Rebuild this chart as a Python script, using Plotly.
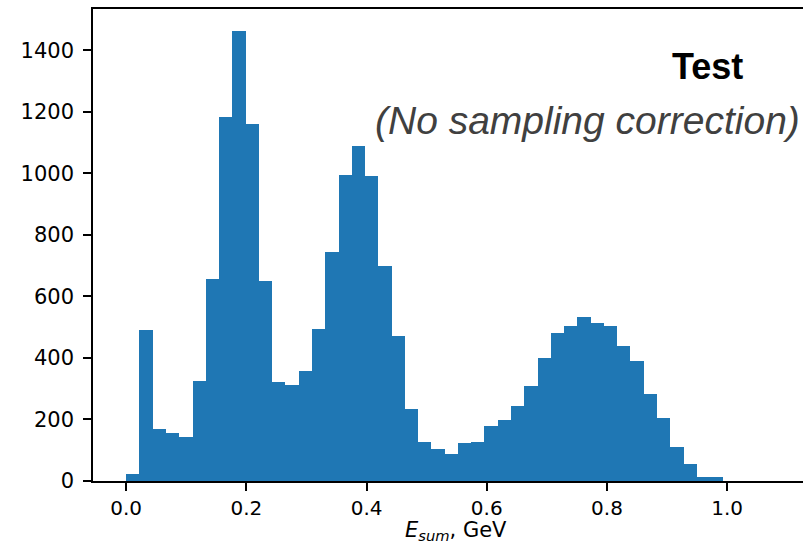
import numpy as np
import plotly.graph_objects as go

# Histogram of E_sum (GeV): 50 equal bins from 0 to 1.104
bin_lo = 0.0
bin_hi = 1.104
n_bins = 50
counts = [22, 490, 169, 156, 143, 325, 656, 1182, 1461, 1159,
          649, 321, 312, 357, 493, 743, 993, 1088, 990, 698,
          471, 234, 127, 104, 88, 123, 127, 179, 198, 243,
          308, 399, 480, 503, 532, 513, 503, 438, 390, 282,
          205, 110, 55, 13, 13, 0, 0, 0, 0, 0]

x_ticks = [0.0, 0.2, 0.4, 0.6, 0.8, 1.0]
x_tick_labels = ["0.0", "0.2", "0.4", "0.6", "0.8", "1.0"]
y_ticks = [0, 200, 400, 600, 800, 1000, 1200, 1400]
y_tick_labels = ["0", "200", "400", "600", "800", "1000", "1200", "1400"]

edges = np.linspace(bin_lo, bin_hi, n_bins + 1)
centers = (edges[:-1] + edges[1:]) / 2
widths = np.diff(edges)

W, H = 803, 545
ml, mr, mt, mb = 93, 0, 9, 64
plot_w = W - ml - mr
plot_h = H - mt - mb
px_per_unit = 601.0
margin_x = 0.05 * (bin_hi - bin_lo)
x_left = bin_lo - margin_x
x_right = x_left + plot_w / px_per_unit
y_top = max(counts) * 1.05

fig = go.Figure()
fig.add_trace(go.Bar(
    x=centers, y=counts, width=widths,
    marker=dict(color="#1f77b4", line=dict(width=0)),
    hoverinfo="x+y",
))

x_tick_font = dict(family="DejaVu Sans", size=20, color="black")
y_tick_font = dict(family="DejaVu Sans", size=21, color="black")

fig.update_layout(
    width=W, height=H,
    margin=dict(l=ml, r=mr, t=mt, b=mb, autoexpand=False),
    paper_bgcolor="white", plot_bgcolor="white",
    bargap=0, showlegend=False,
    xaxis=dict(
        range=[x_left, x_right],
        tickvals=x_ticks, ticktext=x_tick_labels,
        ticks="outside", ticklen=8, tickwidth=1.5, tickcolor="black",
        showline=True, linecolor="black", linewidth=1.5, mirror=True,
        showgrid=False, zeroline=False,
        tickfont=x_tick_font,
        automargin=False,
    ),
    yaxis=dict(
        range=[0, y_top],
        tickvals=y_ticks, ticktext=y_tick_labels,
        ticks="outside", ticklen=8, tickwidth=1.5, tickcolor="black",
        showline=True, linecolor="black", linewidth=1.5, mirror=False,
        showgrid=False, zeroline=False,
        tickfont=y_tick_font,
        ticklabelstandoff=5,
        automargin=False,
    ),
    annotations=[
        dict(text="<i>E</i><sub><i>sum</i></sub>, GeV", xref="paper", yref="paper",
             x=(456 - ml) / plot_w, y=-(516 - 481) / plot_h,
             xanchor="center", yanchor="top", showarrow=False,
             font=dict(family="DejaVu Sans", size=21, color="black")),
        dict(text="<b>Test</b>", xref="paper", yref="paper",
             x=(707 - ml) / plot_w, y=(481 - 66) / plot_h,
             xanchor="center", yanchor="middle", showarrow=False,
             font=dict(family="Liberation Sans, Arial", size=36, color="black")),
        dict(text="<i>(No sampling correction)</i>", xref="paper", yref="paper",
             x=(587 - ml) / plot_w, y=(481 - 120) / plot_h,
             xanchor="center", yanchor="middle", showarrow=False,
             font=dict(family="Liberation Sans, Arial", size=39, color="#404040")),
    ],
)

fig.write_html("out.html")
